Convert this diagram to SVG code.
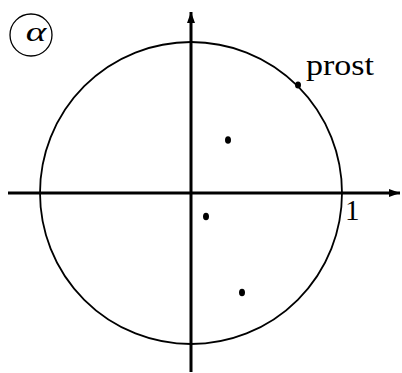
<svg xmlns="http://www.w3.org/2000/svg" width="402" height="373" viewBox="0 0 402 373">
<style>
.axis{stroke:#000;stroke-width:3;fill:none}
.circ{stroke:#000;stroke-width:1.8;fill:none}
.dot{fill:#000}
.t{font-family:"Liberation Serif","DejaVu Serif",serif;fill:#000}
</style>
<defs>
<marker id="arr" markerUnits="userSpaceOnUse" markerWidth="12" markerHeight="10" refX="11" refY="4" orient="auto">
<path d="M0,0 L11,4 L0,8 Z" fill="#000"/>
</marker>
</defs>
<rect width="402" height="373" fill="#fff"/>
<g id="label-alpha">
<circle cx="31" cy="35" r="21" fill="none" stroke="#000" stroke-width="1.3"/>
<text class="t" transform="translate(36,41) scale(1.4,1)" x="0" y="0" font-size="28" font-style="italic" text-anchor="middle">α</text>
</g>
<g id="unit-circle">
<circle class="circ" cx="191" cy="193" r="151"/>
</g>
<g id="connectors">
<line class="axis" x1="8" y1="193" x2="400" y2="193" marker-end="url(#arr)"/>
<line class="axis" x1="191" y1="372" x2="191" y2="12" marker-end="url(#arr)"/>
</g>
<g id="point-prost">
<ellipse class="dot" cx="298" cy="85" rx="3" ry="3.5"/>
<text class="t" x="306" y="75" font-size="29" textLength="68" lengthAdjust="spacingAndGlyphs">prost</text>
</g>
<g id="point-1"><ellipse class="dot" cx="228" cy="140" rx="3" ry="3.8"/></g>
<g id="point-2"><ellipse class="dot" cx="206" cy="216.5" rx="3" ry="3.8"/></g>
<g id="point-3"><ellipse class="dot" cx="242" cy="292.5" rx="3" ry="3.8"/></g>
<g id="label-one">
<text class="t" x="345" y="220" font-size="29">1</text>
</g>
</svg>
